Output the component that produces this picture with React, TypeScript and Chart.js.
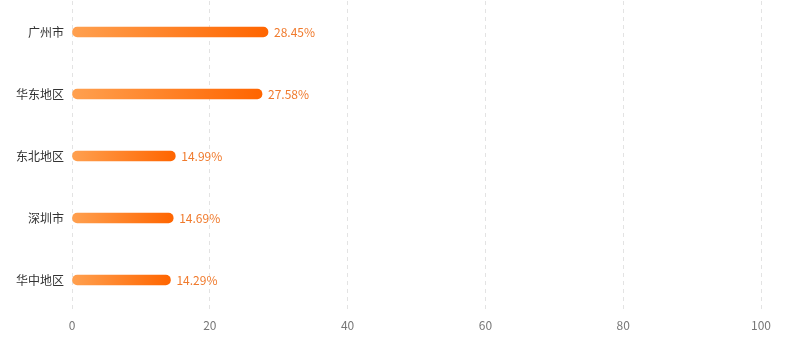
import React, { useEffect, useRef } from "react";
import { Chart, registerables } from "chart.js";

Chart.register(...registerables);

const categories = ["广州市", "华东地区", "东北地区", "深圳市", "华中地区"];
const shares = [28.45, 27.58, 14.99, 14.69, 14.29];
const xTicks = [0, 20, 40, 60, 80, 100];

const FONT = "'Noto Sans CJK SC', 'Noto Sans', sans-serif";

export default function App() {
  const ref = useRef<HTMLCanvasElement | null>(null);

  useEffect(() => {
    document.body.style.margin = "0";
    const canvas = ref.current;
    if (!canvas) return;

    const labelPlugin = {
      id: "valueLabels",
      afterDatasetsDraw(chart: any) {
        const ctx = chart.ctx;
        const meta = chart.getDatasetMeta(0);
        ctx.save();
        ctx.font = `12px ${FONT}`;
        ctx.fillStyle = "#f07a2c";
        ctx.textAlign = "left";
        ctx.textBaseline = "middle";
        meta.data.forEach((bar: any, i: number) => {
          ctx.fillText(shares[i].toFixed(2) + "%", bar.x + 6, bar.y);
        });
        ctx.restore();
      },
    };

    const chart = new Chart(canvas, {
      type: "bar",
      data: {
        labels: categories,
        datasets: [
          {
            data: shares,
            barThickness: 10,
            borderRadius: 5,
            borderSkipped: false,
            backgroundColor: (c: any) => {
              const ch = c.chart;
              const area = ch.chartArea;
              if (!area) return "#ff7a1a";
              const v = c.raw ?? 0;
              const x0 = ch.scales.x.getPixelForValue(0);
              const x1 = ch.scales.x.getPixelForValue(v);
              const g = ch.ctx.createLinearGradient(x0, 0, Math.max(x1, x0 + 1), 0);
              g.addColorStop(0, "#ffa04f");
              g.addColorStop(1, "#ff6500");
              return g;
            },
          },
        ],
      },
      options: {
        indexAxis: "y",
        animation: false,
        responsive: true,
        maintainAspectRatio: false,
        layout: { padding: { top: 1, right: 28, left: 0, bottom: 0 } },
        plugins: {
          legend: { display: false },
          tooltip: { enabled: false },
        },
        scales: {
          x: {
            min: 0,
            max: 100,
            afterBuildTicks: (s: any) => {
              s.ticks = xTicks.map((v) => ({ value: v }));
            },
            afterFit: (s: any) => {
              s.height = 33;
            },
            grid: { color: "#e3e3e3", drawTicks: false, lineWidth: 1 },
            border: { display: false, dash: [4, 4] },
            ticks: {
              color: "#777",
              padding: 7,
              font: { size: 12, family: FONT },
            },
          },
          y: {
            afterFit: (s: any) => {
              s.width = 72;
              s.paddingTop = 0;
              s.paddingBottom = 0;
            },
            grid: { display: false, drawTicks: false },
            border: { display: false },
            ticks: {
              color: "#333",
              padding: 8,
              font: { size: 12, family: FONT },
            },
          },
        },
      },
      plugins: [labelPlugin],
    });

    return () => chart.destroy();
  }, []);

  return (
    <div style={{ position: "fixed", left: 0, top: 0, width: 789, height: 344 }}>
      <canvas ref={ref} />
    </div>
  );
}
